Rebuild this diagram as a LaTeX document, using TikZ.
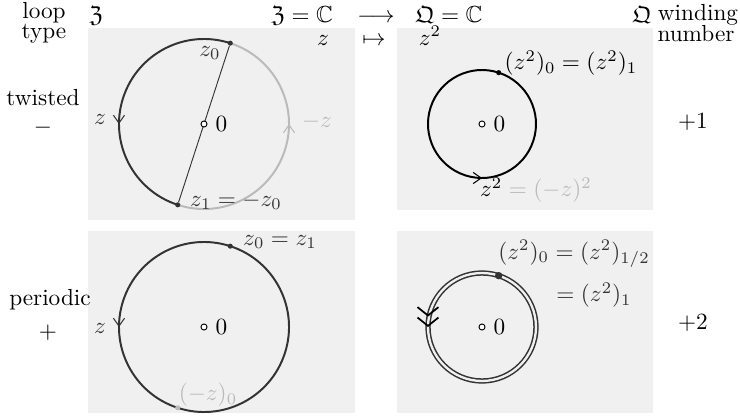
\documentclass[tikz,border=0pt]{standalone}
\usepackage{amsmath,amssymb}
\usepackage{tikz}
\usetikzlibrary{positioning,calc,arrows.meta,decorations.markings}
\definecolor{panelgray}{gray}{0.94}
\colorlet{loopdark}{black!80}
\colorlet{looplight}{black!27}
\tikzset{
    panel/.style={fill=panelgray,draw=none},
    looparc/.style={line width=0.85pt},
    dot/.style={circle,fill,inner sep=0pt,minimum size=2.2pt},
    origin/.style={circle,draw=black,fill=white,inner sep=0pt,minimum size=2.6pt,line width=0.4pt},
    midarrow/.style={postaction={decorate},decoration={markings,mark=at position #1 with
        {\arrow{Straight Barb[length=3.4pt,width=4.8pt,line width=0.45pt]}}}},
    midarrows/.style={decoration={markings,mark=at position #1 with
        {\arrow{Straight Barb[length=3.6pt,width=9pt,line width=0.75pt]
                Straight Barb[length=3.6pt,width=9pt,line width=0.75pt]}}},decorate},
    head/.style={anchor=base,inner sep=1pt},
}

\begin{document}
\begin{tikzpicture}[x=0.43pt,y=0.43pt]
    \useasboundingbox (0,0) rectangle (740,417);
    % the four planes
    \fill[panel] (88,197) rectangle (355,389);
    \fill[panel] (397,207) rectangle (653,389);
    \fill[panel] (88,4) rectangle (355,186);
    \fill[panel] (397,4) rectangle (653,186);

    % headings
    \node[head] (loop) at (44,399) {loop};
    \node[head] (type) at (44,379) {type};
    \node[head] (src) at (96,395) {$\mathfrak{Z}$};
    \node[head] (srcC) at (302,395) {$\mathfrak{Z}=\mathbb{C}$};
    \node[head] (map) at (376,395) {$\longrightarrow$};
    \node[head] (tgtC) at (449,395) {$\mathfrak{Q}=\mathbb{C}$};
    \node[head] (tgt) at (642,395) {$\mathfrak{Q}$};
    \node[head] (winding) at (698,397) {winding};
    \node[head] (number) at (696,376) {number};
    \node[head] (zsrc) at (323,372) {$z$};
    \node[head] (mapsto) at (374,372) {$\mapsto$};
    \node[head] (ztgt) at (430,372) {$z^2$};

    % row labels
    \node (twisted) at (43,319) {twisted};
    \node (minus) at (43,289) {$-$};
    \node (periodic) at (50,117) {periodic};
    \node (plus) at (48,84) {$+$};
    \node (wone) at (693,295) {$+1$};
    \node (wtwo) at (693,94) {$+2$};

    % twisted loop in Z
    \coordinate (ctw) at (204,293);
    \draw[looparc,looplight,midarrow=0.6] ($(ctw)+(252:85)$) arc[start angle=252,end angle=432,radius=85];
    \draw[looparc,loopdark,midarrow=0.6] ($(ctw)+(72:85)$) arc[start angle=72,end angle=252,radius=85];
    \node[dot,loopdark] (z0tw) at ($(ctw)+(72:85)$) {};
    \node[dot,loopdark] (z1tw) at ($(ctw)+(252:85)$) {};
    \draw[line width=0.4pt,loopdark] (z0tw) -- (z1tw);
    \node[origin] (o1) at (ctw) {};
    \node[right=0pt of o1] (zero1) {$0$};
    \node[loopdark] (lz0tw) at (210,364) {$z_0$};
    \node[loopdark] (lz1tw) at (236,216) {$z_1=-z_0$};
    \node[loopdark] (lztw) at (100,298) {$z$};
    \node[looplight] (lmztw) at (317,295) {$-z$};

    % its square in Q
    \coordinate (csq) at (482,293);
    \draw[looparc,black,midarrow=0.55] ($(csq)+(72:54)$) arc[start angle=72,end angle=432,radius=54];
    \node[dot,black] (w0tw) at ($(csq)+(72:54)$) {};
    \node[origin] (o2) at (csq) {};
    \node[right=0pt of o2] (zero2) {$0$};
    \node (lw0tw) at (571,354) {$(z^2)_0=(z^2)_1$};
    \node (lwtw) at (536,227) {$z^2\textcolor{looplight}{{}=(-z)^2}$};

    % periodic loop in Z
    \coordinate (cpe) at (204,90);
    \draw[looparc,loopdark,midarrow=0.3] ($(cpe)+(72:85)$) arc[start angle=72,end angle=432,radius=85];
    \node[dot,loopdark] (z0pe) at ($(cpe)+(72:85)$) {};
    \node[dot,looplight] (mzpe) at ($(cpe)+(252:85)$) {};
    \node[origin] (o3) at (cpe) {};
    \node[right=0pt of o3] (zero3) {$0$};
    \node[loopdark] (lz0pe) at (280,175) {$z_0=z_1$};
    \node[looplight] (lmzpe) at (208,22) {$(-z)_0$};
    \node[loopdark] (lzpe) at (100,89) {$z$};

    % its square in Q, run twice
    \coordinate (cpq) at (482,90);
    \draw[line width=0.65pt,loopdark,double=panelgray,double distance=1pt] (cpq) circle[radius=54];
    \path[black,midarrows=0.3] ($(cpq)+(72:54)$) arc[start angle=72,end angle=432,radius=54];
    \node[dot,loopdark,minimum size=3.2pt] (w0pe) at ($(cpq)+(72:54)$) {};
    \node[origin] (o4) at (cpq) {};
    \node[right=0pt of o4] (zero4) {$0$};
    \node[loopdark] (lw0pe) at (574,163) {$(z^2)_0=(z^2)_{1/2}$};
    \node[loopdark] (lw1pe) at (594,122) {$=(z^2)_1$};
\end{tikzpicture}
\end{document}
